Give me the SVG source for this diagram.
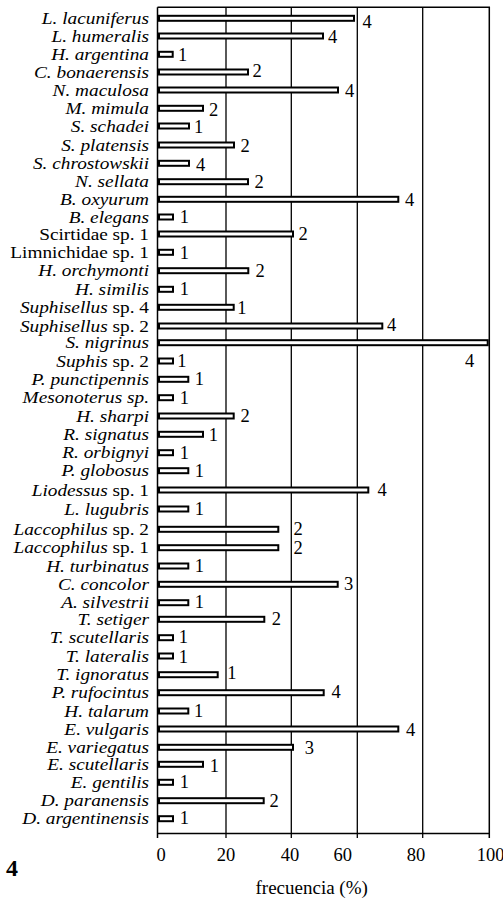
<svg xmlns="http://www.w3.org/2000/svg" width="503" height="901" viewBox="0 0 503 901">
<style>
text{font-family:'Liberation Serif','Times New Roman',serif;fill:#000}
.lab{font-size:16.5px;font-style:italic;text-anchor:end}
.rm{font-style:normal}
.num{font-size:18.5px}
.tick{font-size:18.5px;text-anchor:middle}
.bar{fill:#fff;stroke:#000;stroke-width:2}
.grid{stroke:#000;stroke-width:1.3;fill:none}
.frame{stroke:#000;stroke-width:1.5;fill:none}
</style>
<rect width="503" height="901" fill="#fff"/>
<g id="grid">
<path class="grid" d="M226 7.3V838M291.3 7.3V838M357.3 7.3V838M422.7 7.3V838"/>
<path class="frame" d="M157.5 7.3H489.3V838M157.5 7.3V838M157.5 833.5H489.3"/>
</g>
<g id="labels" transform="translate(149,0) scale(1.17,1)">
<text class="lab" x="0" y="24">L. lacuniferus</text>
<text class="lab" x="0" y="41.7">L. humeralis</text>
<text class="lab" x="0" y="60">H. argentina</text>
<text class="lab" x="0" y="77.7">C. bonaerensis</text>
<text class="lab" x="0" y="95.7">N. maculosa</text>
<text class="lab" x="0" y="114">M. mimula</text>
<text class="lab" x="0" y="131.7">S. schadei</text>
<text class="lab" x="0" y="150.7">S. platensis</text>
<text class="lab" x="0" y="169">S. chrostowskii</text>
<text class="lab" x="0" y="187.4">N. sellata</text>
<text class="lab" x="0" y="205">B. oxyurum</text>
<text class="lab" x="0" y="222.7">B. elegans</text>
<text class="lab rm" x="0" y="239.7">Scirtidae sp. 1</text>
<text class="lab rm" x="0" y="258">Limnichidae sp. 1</text>
<text class="lab" x="0" y="276.4">H. orchymonti</text>
<text class="lab" x="0" y="295">H. similis</text>
<text class="lab" x="0" y="313">Suphisellus<tspan class="rm"> sp. 4</tspan></text>
<text class="lab" x="0" y="331.7">Suphisellus<tspan class="rm"> sp. 2</tspan></text>
<text class="lab" x="0" y="348.4">S. nigrinus</text>
<text class="lab" x="0" y="366.7">Suphis<tspan class="rm"> sp. 2</tspan></text>
<text class="lab" x="0" y="385">P. punctipennis</text>
<text class="lab" x="0" y="403.4">Mesonoterus sp.</text>
<text class="lab" x="0" y="421.7">H. sharpi</text>
<text class="lab" x="0" y="440">R. signatus</text>
<text class="lab" x="0" y="458.4">R. orbignyi</text>
<text class="lab" x="0" y="476.4">P. globosus</text>
<text class="lab" x="0" y="495.7">Liodessus<tspan class="rm"> sp. 1</tspan></text>
<text class="lab" x="0" y="514.7">L. lugubris</text>
<text class="lab" x="0" y="535">Laccophilus<tspan class="rm"> sp. 2</tspan></text>
<text class="lab" x="0" y="553.4">Laccophilus<tspan class="rm"> sp. 1</tspan></text>
<text class="lab" x="0" y="571.7">H. turbinatus</text>
<text class="lab" x="0" y="590">C. concolor</text>
<text class="lab" x="0" y="608.4">A. silvestrii</text>
<text class="lab" x="0" y="625">T. setiger</text>
<text class="lab" x="0" y="643.4">T. scutellaris</text>
<text class="lab" x="0" y="661.7">T. lateralis</text>
<text class="lab" x="0" y="680.4">T. ignoratus</text>
<text class="lab" x="0" y="698.4">P. rufocintus</text>
<text class="lab" x="0" y="716.7">H. talarum</text>
<text class="lab" x="0" y="734.7">E. vulgaris</text>
<text class="lab" x="0" y="753">E. variegatus</text>
<text class="lab" x="0" y="770">E. scutellaris</text>
<text class="lab" x="0" y="788">E. gentilis</text>
<text class="lab" x="0" y="806.4">D. paranensis</text>
<text class="lab" x="0" y="824.4">D. argentinensis</text>
</g>
<g id="bars">
<rect class="bar" x="159" y="15.8" width="195" height="5"/>
<rect class="bar" x="159" y="33.5" width="164" height="5"/>
<rect class="bar" x="159" y="51.8" width="13.7" height="5"/>
<rect class="bar" x="159" y="69.5" width="89" height="5"/>
<rect class="bar" x="159" y="87.5" width="179" height="5"/>
<rect class="bar" x="159" y="105.8" width="44" height="5"/>
<rect class="bar" x="159" y="123.5" width="30" height="5"/>
<rect class="bar" x="159" y="142.5" width="75" height="5"/>
<rect class="bar" x="159" y="160.8" width="30" height="5"/>
<rect class="bar" x="159" y="179.2" width="89" height="5"/>
<rect class="bar" x="159" y="196.8" width="239.3" height="5"/>
<rect class="bar" x="159" y="214.5" width="14" height="5"/>
<rect class="bar" x="159" y="231.5" width="134" height="5"/>
<rect class="bar" x="159" y="249.8" width="14" height="5"/>
<rect class="bar" x="159" y="268.2" width="89.3" height="5"/>
<rect class="bar" x="159" y="286.8" width="14" height="5"/>
<rect class="bar" x="159" y="304.8" width="74.7" height="5"/>
<rect class="bar" x="159" y="323.5" width="223.3" height="5"/>
<rect class="bar" x="159" y="340.2" width="328.7" height="5"/>
<rect class="bar" x="159" y="358.5" width="14" height="5"/>
<rect class="bar" x="159" y="376.8" width="29.3" height="5"/>
<rect class="bar" x="159" y="395.2" width="14" height="5"/>
<rect class="bar" x="159" y="413.5" width="74.7" height="5"/>
<rect class="bar" x="159" y="431.8" width="44" height="5"/>
<rect class="bar" x="159" y="450.2" width="14" height="5"/>
<rect class="bar" x="159" y="468.2" width="29.3" height="5"/>
<rect class="bar" x="159" y="487.5" width="209.3" height="5"/>
<rect class="bar" x="159" y="506.5" width="29.3" height="5"/>
<rect class="bar" x="159" y="526.8" width="119.3" height="5"/>
<rect class="bar" x="159" y="545.2" width="119.3" height="5"/>
<rect class="bar" x="159" y="563.5" width="29.3" height="5"/>
<rect class="bar" x="159" y="581.8" width="178.7" height="5"/>
<rect class="bar" x="159" y="600.2" width="29.3" height="5"/>
<rect class="bar" x="159" y="616.8" width="105.3" height="5"/>
<rect class="bar" x="159" y="635.2" width="14" height="5"/>
<rect class="bar" x="159" y="653.5" width="14" height="5"/>
<rect class="bar" x="159" y="672.2" width="58.7" height="5"/>
<rect class="bar" x="159" y="690.2" width="164.7" height="5"/>
<rect class="bar" x="159" y="708.5" width="29.3" height="5"/>
<rect class="bar" x="159" y="726.5" width="239.3" height="5"/>
<rect class="bar" x="159" y="744.8" width="134" height="5"/>
<rect class="bar" x="159" y="761.8" width="44" height="5"/>
<rect class="bar" x="159" y="779.8" width="14" height="5"/>
<rect class="bar" x="159" y="798.2" width="104.7" height="5"/>
<rect class="bar" x="159" y="816.2" width="14" height="5"/>
</g>
<g id="counts">
<text class="num" x="362.5" y="28">4</text>
<text class="num" x="328" y="43">4</text>
<text class="num" x="178" y="60.5">1</text>
<text class="num" x="252.5" y="77">2</text>
<text class="num" x="345" y="96.7">4</text>
<text class="num" x="209" y="116">2</text>
<text class="num" x="194" y="132.7">1</text>
<text class="num" x="240.5" y="151.7">2</text>
<text class="num" x="196" y="170.5">4</text>
<text class="num" x="254.5" y="187.5">2</text>
<text class="num" x="405" y="206">4</text>
<text class="num" x="179.7" y="223.3">1</text>
<text class="num" x="298.5" y="240">2</text>
<text class="num" x="179.7" y="259">1</text>
<text class="num" x="255.5" y="276.7">2</text>
<text class="num" x="179.7" y="295">1</text>
<text class="num" x="237.3" y="314">1</text>
<text class="num" x="387" y="331">4</text>
<text class="num" x="465" y="367.3">4</text>
<text class="num" x="177.3" y="367.3">1</text>
<text class="num" x="194.7" y="385">1</text>
<text class="num" x="179.7" y="404">1</text>
<text class="num" x="240.5" y="421.7">2</text>
<text class="num" x="208.7" y="440.7">1</text>
<text class="num" x="179.7" y="459.3">1</text>
<text class="num" x="194.7" y="476.5">1</text>
<text class="num" x="377.5" y="496">4</text>
<text class="num" x="194.7" y="515">1</text>
<text class="num" x="293.5" y="535">2</text>
<text class="num" x="293.5" y="554">2</text>
<text class="num" x="194.7" y="571.7">1</text>
<text class="num" x="344" y="590">3</text>
<text class="num" x="194.7" y="608.3">1</text>
<text class="num" x="271.8" y="624.5">2</text>
<text class="num" x="178.7" y="643.3">1</text>
<text class="num" x="178.7" y="662.5">1</text>
<text class="num" x="227.3" y="679.3">1</text>
<text class="num" x="331.5" y="698.3">4</text>
<text class="num" x="194" y="716.7">1</text>
<text class="num" x="406" y="736">4</text>
<text class="num" x="304.7" y="754">3</text>
<text class="num" x="209.7" y="771.5">1</text>
<text class="num" x="179.7" y="788.3">1</text>
<text class="num" x="269.5" y="806.7">2</text>
<text class="num" x="179.7" y="823.5">1</text>
</g>
<g id="axis">
<text class="tick" x="161" y="861">0</text>
<text class="tick" x="226" y="861">20</text>
<text class="tick" x="290" y="861">40</text>
<text class="tick" x="342.7" y="861">60</text>
<text class="tick" x="416" y="861">80</text>
<text class="tick" x="490.5" y="861">100</text>
<text x="311.7" y="894" style="font-size:19px;text-anchor:middle">frecuencia (%)</text>
</g>
<text id="panel" x="6" y="876" style="font-size:24px;font-weight:bold">4</text>
</svg>
